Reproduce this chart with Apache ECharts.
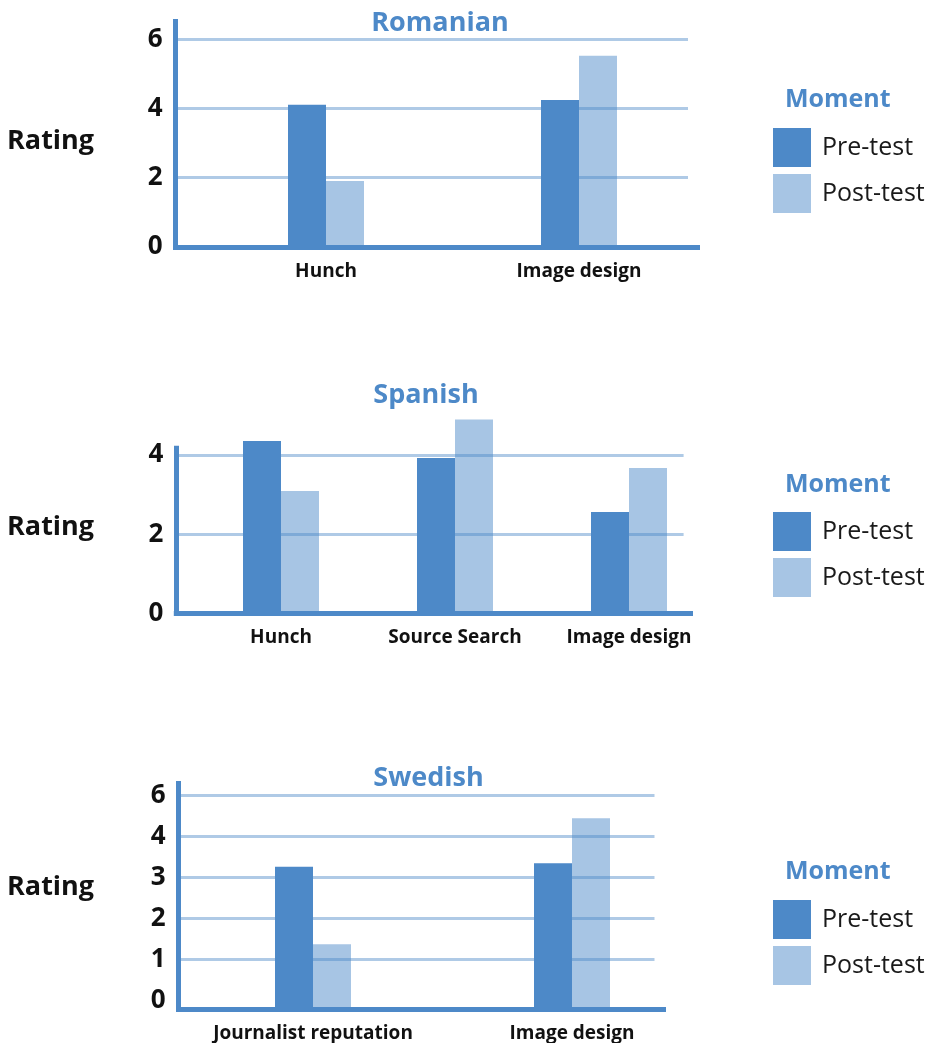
<!DOCTYPE html>
<html>
<head>
<meta charset="utf-8">
<script src="https://cdn.jsdelivr.net/npm/echarts@6/dist/echarts.min.js"></script>
<style>
  html, body { margin: 0; padding: 0; background: #ffffff; }
  #chart { width: 932px; height: 1043px; }
</style>
</head>
<body>
<div id="chart"></div>
<script>
// ---- Ratings by language and moment ----
const seriesNames = ['Pre-test', 'Post-test'];

const romanianCategories = ['Hunch', 'Image design'];
const romanianPre = [4.10, 4.24];
const romanianPost = [1.89, 5.52];

const spanishCategories = ['Hunch', 'Source Search', 'Image design'];
const spanishPre = [4.35, 3.92, 2.56];
const spanishPost = [3.09, 4.89, 3.67];

const swedishCategories = ['Journalist reputation', 'Image design'];
// Swedish values are given in tick steps; the ticks are labelled 0, 1, 2, 3, 4, 6
const swedishPre = [3.26, 3.35];
const swedishPost = [1.37, 4.45];
const swedishTickLabels = ['0', '1', '2', '3', '4', '6'];

// ---- Styling ----
const PRE_COLOR = '#4d89c8';
const POST_COLOR = '#a7c5e4';
const GRID_COLOR = 'rgba(77,137,200,0.45)';
const FONT = '"Open Sans", "Noto Sans", sans-serif';
const BAR_W = 38;

// Panel layout (pixels)
const panels = [
  {
    title: 'Romanian', titleX: 440, titleY: 23, ratingY: 141, momentY: 100, legendTop: 128,
    categories: romanianCategories, pre: romanianPre, post: romanianPost,
    axisX: 175.5, axisTop: 19, lineY: 247.5, lineEnd: 700,
    zeroY: 246.3, unit: 34.5, maxV: 6, interval: 2, gridEnd: 688,
    barsLeft: 199.5, barsRight: 705.5, tickLabel: null
  },
  {
    title: 'Spanish', titleX: 426, titleY: 395, ratingY: 527, momentY: 485, legendTop: 512,
    categories: spanishCategories, pre: spanishPre, post: spanishPost,
    axisX: 176.3, axisTop: 445.7, lineY: 613.3, lineEnd: 693,
    zeroY: 613.4, unit: 39.65, maxV: 4, interval: 2, gridEnd: 683.6,
    barsLeft: 194, barsRight: 716, tickLabel: null
  },
  {
    title: 'Swedish', titleX: 428.5, titleY: 778, ratingY: 887, momentY: 872, legendTop: 900,
    categories: swedishCategories, pre: swedishPre, post: swedishPost,
    axisX: 178.5, axisTop: 781, lineY: 1009.3, lineEnd: 666,
    zeroY: 1000.2, unit: 40.9, maxV: 5, interval: 1, gridEnd: 654.5,
    barsLeft: 183.5, barsRight: 701.5, tickLabel: swedishTickLabels
  }
];

// Bars grow from the bottom edge of their grid (the drawn x axis line)
function barRenderer(side) {
  return function (params, api) {
    const top = api.coord([api.value(0), api.value(1)]);
    const cs = params.coordSys;
    const base = cs.y + cs.height;
    const x = side < 0 ? top[0] - BAR_W : top[0];
    return {
      type: 'rect',
      shape: { x: x, y: top[1], width: BAR_W, height: base - top[1] },
      style: api.style()
    };
  };
}

const grid = [], xAxis = [], yAxis = [], series = [], legend = [], graphic = [];

panels.forEach(function (p) {
  // 1) frame: the two thick axis lines
  const gFrame = grid.length;
  grid.push({
    left: p.axisX, top: p.axisTop + 2.5,
    width: p.lineEnd - 2.5 - p.axisX, height: p.lineY - p.axisTop - 2.5,
    outerBoundsMode: 'none'
  });
  const frameLine = { show: true, lineStyle: { color: PRE_COLOR, width: 5, cap: 'square' } };
  xAxis.push({ gridIndex: gFrame, type: 'value', min: 0, max: 1, z: 6,
    axisLine: frameLine, axisTick: { show: false }, axisLabel: { show: false }, splitLine: { show: false } });
  yAxis.push({ gridIndex: gFrame, type: 'value', min: 0, max: 1, z: 6,
    axisLine: frameLine, axisTick: { show: false }, axisLabel: { show: false }, splitLine: { show: false } });

  // 2) scale: tick labels and grid lines
  const gScale = grid.length;
  grid.push({
    left: p.axisX, top: p.zeroY - p.unit * p.maxV,
    width: p.gridEnd - p.axisX, height: p.unit * p.maxV,
    outerBoundsMode: 'none'
  });
  xAxis.push({ gridIndex: gScale, type: 'value', show: false, min: 0, max: 1 });
  yAxis.push({
    gridIndex: gScale, type: 'value', min: 0, max: p.maxV, interval: p.interval, z: 4,
    axisLine: { show: false }, axisTick: { show: false },
    axisLabel: {
      margin: 13, color: '#111', fontFamily: FONT, fontWeight: 'bold', fontSize: 26,
      formatter: p.tickLabel ? (function (labels) { return function (v) { return labels[Math.round(v)]; }; })(p.tickLabel) : '{value}'
    },
    splitLine: { show: true, showMinLine: false, lineStyle: { color: GRID_COLOR, width: 3 } }
  });

  // 3) bars on a category axis
  const gBars = grid.length;
  const barsTop = p.zeroY - p.unit * p.maxV;
  grid.push({
    left: p.barsLeft, top: barsTop,
    width: p.barsRight - p.barsLeft, height: p.lineY - barsTop,
    outerBoundsMode: 'none'
  });
  xAxis.push({
    gridIndex: gBars, type: 'category', data: p.categories,
    axisLine: { show: false }, axisTick: { show: false }, splitLine: { show: false },
    axisLabel: { margin: 15, color: '#111', fontFamily: FONT, fontWeight: 'bold', fontSize: 19, interval: 0 }
  });
  const barsAxis = yAxis.length;
  yAxis.push({
    gridIndex: gBars, type: 'value', show: false,
    min: (p.zeroY - p.lineY) / p.unit, max: p.maxV, splitLine: { show: false }
  });
  const barsXAxis = xAxis.length - 1;
  [[p.pre, PRE_COLOR, -1], [p.post, POST_COLOR, 1]].forEach(function (s, k) {
    series.push({
      name: seriesNames[k], type: 'custom', xAxisIndex: barsXAxis, yAxisIndex: barsAxis,
      renderItem: barRenderer(s[2]), clip: false, z: 2,
      itemStyle: { color: s[1] },
      encode: { x: 0, y: 1 },
      data: s[0].map(function (v, i) { return [i, v]; })
    });
  });

  // legend
  legend.push({
    data: seriesNames, orient: 'vertical', left: 773, top: p.legendTop, padding: 0,
    itemWidth: 38, itemHeight: 39, itemGap: 7, icon: 'rect', selectedMode: false,
    textStyle: { fontFamily: FONT, fontSize: 25, color: '#1a1a1a', padding: [4, 0, 0, 6] }
  });

  // panel texts
  graphic.push({ type: 'text', x: p.titleX, y: p.titleY,
    style: { text: p.title, fill: PRE_COLOR, font: 'bold 27px ' + FONT, align: 'center', verticalAlign: 'middle' } });
  graphic.push({ type: 'text', x: 7, y: p.ratingY,
    style: { text: 'Rating', fill: '#111', font: 'bold 27px ' + FONT, align: 'left', verticalAlign: 'middle' } });
  graphic.push({ type: 'text', x: 785, y: p.momentY,
    style: { text: 'Moment', fill: PRE_COLOR, font: 'bold 25px ' + FONT, align: 'left', verticalAlign: 'middle' } });
});

const chart = echarts.init(document.getElementById('chart'), null, { renderer: 'canvas' });
chart.setOption({
  animation: false,
  backgroundColor: '#ffffff',
  grid: grid, xAxis: xAxis, yAxis: yAxis, series: series, legend: legend, graphic: graphic
});
</script>
</body>
</html>
